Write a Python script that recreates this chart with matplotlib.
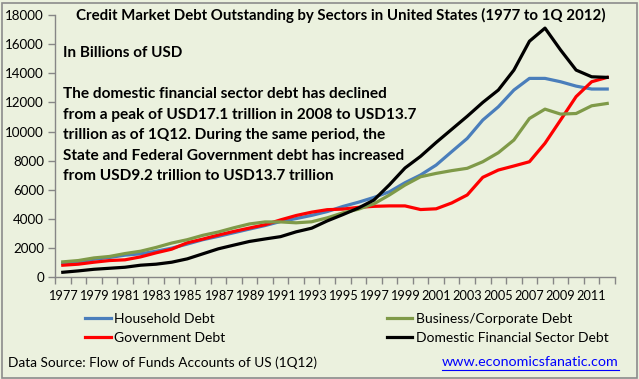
import matplotlib.pyplot as plt
from matplotlib.patches import Rectangle

years = list(range(1977, 2013))

household = [970, 1060, 1240, 1360, 1520, 1610, 1790, 2000, 2280, 2580, 2810, 3060, 3310,
             3550, 3830, 4030, 4250, 4510, 4860, 5150, 5480, 5870, 6490, 7020, 7700, 8620,
             9530, 10790, 11700, 12850, 13650, 13650, 13420, 13120, 12920, 12920]
business = [1060, 1150, 1330, 1430, 1630, 1790, 2050, 2350, 2580, 2880, 3110, 3400, 3660,
            3800, 3800, 3740, 3810, 4080, 4420, 4670, 5040, 5650, 6330, 6900, 7130, 7320,
            7480, 7930, 8550, 9420, 10900, 11540, 11200, 11240, 11770, 11930]
government = [830, 900, 1035, 1150, 1200, 1400, 1680, 1930, 2370, 2620, 2900, 3150, 3380,
              3610, 3940, 4240, 4470, 4640, 4680, 4800, 4870, 4900, 4900, 4650, 4700, 5100,
              5650, 6860, 7360, 7640, 7930, 9200, 10790, 12400, 13420, 13720]
financial = [345, 440, 550, 620, 690, 830, 900, 1035, 1265, 1610, 1955, 2210, 2460,
             2630, 2790, 3120, 3370, 3870, 4300, 4750, 5300, 6350, 7500, 8300, 9250, 10150,
             11050, 12000, 12850, 14220, 16200, 17100, 15600, 14220, 13760, 13720]

series = [
    ("Household Debt", household, "#4A7EBB"),
    ("Government Debt", government, "#FF0000"),
    ("Business/Corporate Debt", business, "#7F9A48"),
    ("Domestic Financial Sector Debt", financial, "#000000"),
]

title = "Credit Market Debt Outstanding by Sectors in United States (1977 to 1Q 2012)"
note = ("The domestic financial sector debt has declined\n"
        "from a peak of USD17.1 trillion in 2008 to USD13.7\n"
        "trillion as of 1Q12. During the same period, the\n"
        "State and Federal Government debt has increased\n"
        "from USD9.2 trillion to USD13.7 trillion")

W, H = 639, 379
bg = "#EBF1DE"
plt.rcParams['font.family'] = ['Lato', 'DejaVu Sans']

fig = plt.figure(figsize=(W / 100, H / 100), dpi=100)
fig.patch.set_facecolor(bg)
fig.patches.append(Rectangle((1.5 / W, 1.5 / H), (W - 4) / W, (H - 4) / H,
                             transform=fig.transFigure, fill=False,
                             edgecolor="#8C8C8C", linewidth=1.2))

ax = fig.add_axes([55 / W, 1 - 277.3 / H, 560 / W, (277.3 - 15) / H])
ax.set_facecolor(bg)

x = list(range(len(years)))
for name, vals, col in series:
    ax.plot(x, vals, color=col, linewidth=2.3, label=name, solid_joinstyle="round")

ax.set_xlim(-0.5, len(years) - 0.5)
ax.set_ylim(0, 18000)
ax.set_yticks(range(0, 18001, 2000))
ax.set_xticks(x[::2])
ax.set_xticklabels([str(y) for y in years[::2]])
ax.set_xticks([i - 0.5 for i in range(len(years) + 1)], minor=True)
ax.tick_params(axis="x", which="major", length=0, pad=9.5, labelsize=9.2)
ax.tick_params(axis="x", which="minor", length=5, color="#868686", width=1)
ax.tick_params(axis="y", length=5, color="#868686", width=1, labelsize=9.6, pad=3)
for s in ["top", "right"]:
    ax.spines[s].set_visible(False)
for s in ["left", "bottom"]:
    ax.spines[s].set_color("#868686")
    ax.spines[s].set_linewidth(1)

fig.text(341 / W, 1 - 15 / H, title, ha="center", va="center",
         fontsize=10.8, fontweight="bold")
fig.text(63 / W, 1 - 53 / H, "In Billions of USD", ha="left", va="center",
         fontsize=11, fontweight="bold")
fig.text(63 / W, 1 - 87 / H, note, ha="left", va="top",
         fontsize=11.1, fontweight="bold", linespacing=1.6)

fig.legend(loc="upper left", bbox_to_anchor=(85 / W, 1 - 313 / H), ncol=2,
           frameon=False, fontsize=10, handlelength=1.85, handletextpad=0.25,
           columnspacing=11.6, labelspacing=0.5, borderpad=0, borderaxespad=0)

fig.text(8 / W, 1 - 363 / H, "Data Source: Flow of Funds Accounts of US (1Q12)",
         ha="left", va="center", fontsize=9.8)
url = fig.text(619 / W, 1 - 362 / H, "www.economicsfanatic.com", ha="right", va="center",
               fontsize=10.3, color="#0000FF")

fig.canvas.draw()
bb = url.get_window_extent().transformed(fig.transFigure.inverted())
fig.add_artist(plt.Line2D([bb.x0, bb.x1], [1 - 370 / H, 1 - 370 / H],
                          color="#0000FF", linewidth=0.8, transform=fig.transFigure))

fig.savefig("out.png", dpi=100, facecolor=bg)
